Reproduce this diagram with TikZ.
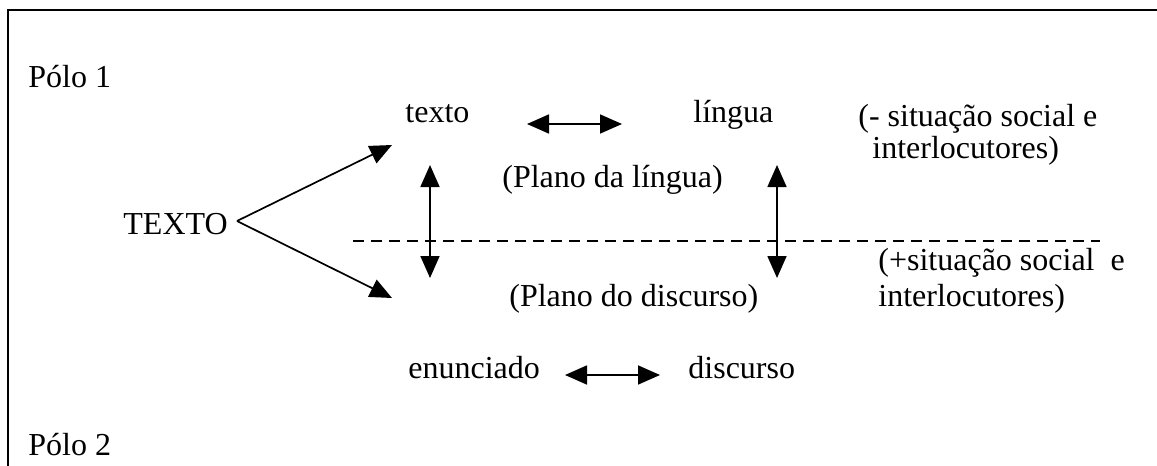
\documentclass[tikz,border=0pt]{standalone}
\usepackage{fontspec}
\setmainfont{Liberation Serif}
\usetikzlibrary{arrows.meta}
\begin{document}
\begin{tikzpicture}[x=0.5pt,y=-0.5pt,
  lbl/.style={anchor=base west, inner sep=0pt, font=\fontsize{16}{18}\selectfont},
  frame/.style={line width=1pt},
  conn/.style={line width=0.85pt, -{Triangle[length=11pt,width=9.5pt]}},
  bidir/.style={line width=0.85pt, {Triangle[length=11pt,width=9.5pt]}-{Triangle[length=11pt,width=9.5pt]}},
  split/.style={line width=0.8pt, dash pattern=on 5.5pt off 3.5pt}]
\useasboundingbox (0,0) rectangle (1157,466);
\draw[frame] (8,466) -- (8,10) -- (1157,10);

\node[lbl] (p1) at (28,87) {Pólo 1};
\node[lbl] (texto) at (405,122) {texto};
\node[lbl] (lingua) at (693,122) {língua};
\node[lbl] (planoL) at (502,187) {(Plano da língua)};
\node[lbl] (TEXTO) at (123,234) {TEXTO};
\node[lbl] (planoD) at (509,306) {(Plano do discurso)};
\node[lbl] (sitA1) at (858,126) {(- situação social e};
\node[lbl] (sitA2) at (872,158) {interlocutores)};
\node[lbl] (sitB1) at (878,270) {(+situação social\ \ e};
\node[lbl] (sitB2) at (878,306) {interlocutores)};
\node[lbl] (enun) at (408,378) {enunciado};
\node[lbl] (disc) at (688,378) {discurso};
\node[lbl] (p2) at (28,455) {Pólo 2};

\coordinate (apex) at (237,221);
\coordinate (tipU) at (392,145);
\coordinate (tipD) at (392,298);
\draw[conn] (apex) -- (tipU);
\draw[conn] (apex) -- (tipD);

\coordinate (hA1) at (527,124);
\coordinate (hA2) at (622,124);
\draw[bidir] (hA1) -- (hA2);

\coordinate (vL1) at (430,165);
\coordinate (vL2) at (430,278);
\draw[bidir] (vL1) -- (vL2);
\coordinate (vR1) at (777,165);
\coordinate (vR2) at (777,278);
\draw[bidir] (vR1) -- (vR2);

\coordinate (hB1) at (565,375);
\coordinate (hB2) at (660,375);
\draw[bidir] (hB1) -- (hB2);

\coordinate (d1) at (353,241);
\coordinate (d2) at (1100,241);
\draw[split] (d1) -- (d2);
\end{tikzpicture}
\end{document}
